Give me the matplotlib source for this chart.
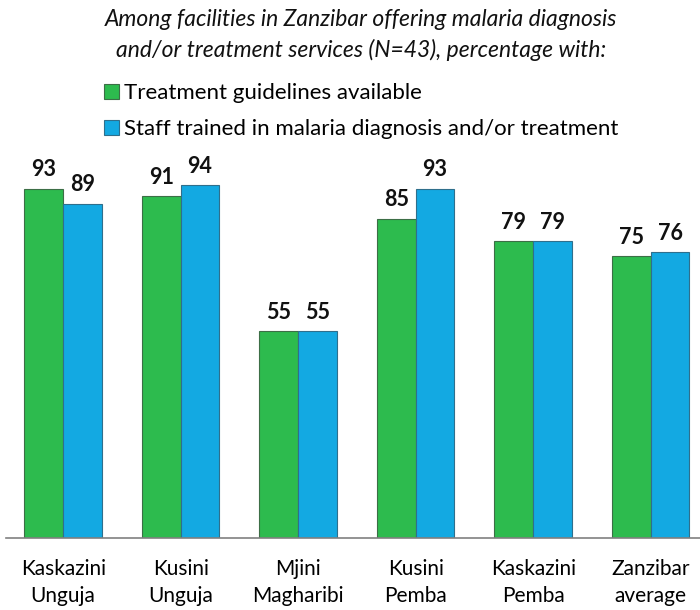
import numpy as np
import matplotlib.pyplot as plt

plt.rcParams['font.family'] = ['Lato', 'DejaVu Sans']

regions = ['Kaskazini\nUnguja', 'Kusini\nUnguja', 'Mjini\nMagharibi',
           'Kusini\nPemba', 'Kaskazini\nPemba', 'Zanzibar\naverage']
guidelines = [93, 91, 55, 85, 79, 75]
staff = [89, 94, 55, 93, 79, 76]
series_names = ['Treatment guidelines available',
                'Staff trained in malaria diagnosis and/or treatment']

green = '#2dbb4e'
blue = '#13a9e2'

fig = plt.figure(figsize=(7, 6.1), dpi=100)
ax = fig.add_axes([0.008, 0.118, 0.992, 0.616])

x = np.arange(len(regions))
w = 0.33
b1 = ax.bar(x - w / 2, guidelines, w, color=green, edgecolor='#3c6e46', linewidth=0.8)
b2 = ax.bar(x + w / 2, staff, w, color=blue, edgecolor='#2f6f8c', linewidth=0.8)

for bars in (b1, b2):
    for r in bars:
        ax.text(r.get_x() + r.get_width() / 2, r.get_height() + 2.2, f'{int(r.get_height())}',
                ha='center', va='bottom', fontsize=15.5, fontweight='bold', color='#111111')

ax.set_xlim(-0.49, 5.42)
ax.set_ylim(0, 100)
ax.set_xticks(x)
ax.set_xticklabels(regions, fontsize=15, linespacing=1.45)
ax.tick_params(axis='x', length=0, pad=15)
ax.set_yticks([])
for s in ['top', 'right', 'left']:
    ax.spines[s].set_visible(False)
ax.spines['bottom'].set_color('#808080')
ax.spines['bottom'].set_linewidth(1.2)

fig.text(0.516, 1 - 20 / 610, 'Among facilities in Zanzibar offering malaria diagnosis',
         ha='center', va='center', fontsize=16.5, style='italic', color='#111111')
fig.text(0.516, 1 - 50 / 610, 'and/or treatment services (N=43), percentage with:',
         ha='center', va='center', fontsize=16.5, style='italic', color='#111111')

fig.legend([b1, b2], series_names, loc='upper left', bbox_to_anchor=(0.148, 1 - 83 / 610),
           frameon=False, fontsize=16, handlelength=0.68, handleheight=0.68,
           handletextpad=0.25, labelspacing=0.72, borderpad=0, borderaxespad=0)

fig.savefig('out.png', dpi=100)
